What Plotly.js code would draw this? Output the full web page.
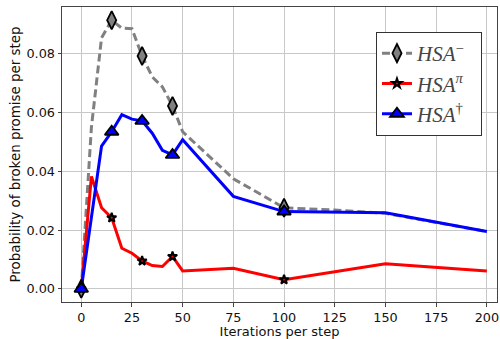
<!DOCTYPE html>
<html>
<head>
<meta charset="utf-8">
<script src="https://cdn.plot.ly/plotly-3.0.1.min.js"></script>
<style>html,body{margin:0;padding:0;background:#fff;}#chart{width:500px;height:339px;}</style>
</head>
<body>
<div id="chart"></div>
<script>
// Data
const xGray = [0, 5, 10, 15, 20, 25, 30, 35, 40, 45, 50, 75, 100, 125, 150, 200];
const yGray = [0, 0.055, 0.0855, 0.0915, 0.0888, 0.0886, 0.0793, 0.0722, 0.0688, 0.0623, 0.0535, 0.0375, 0.0276, 0.0268, 0.0257, 0.0195];
const xRed = [0, 5, 10, 15, 20, 25, 30, 35, 40, 45, 50, 75, 100, 150, 200];
const yRed = [0, 0.0383, 0.0276, 0.0242, 0.0138, 0.0121, 0.0095, 0.0079, 0.0076, 0.011, 0.0061, 0.007, 0.0031, 0.0085, 0.0061];
const xBlue = [0, 10, 15, 20, 25, 30, 35, 40, 45, 50, 75, 100, 150, 200];
const yBlue = [0, 0.0486, 0.0535, 0.0593, 0.0578, 0.0572, 0.053, 0.0472, 0.0456, 0.0508, 0.0315, 0.0263, 0.0259, 0.0195];
const markedX = [0, 15, 30, 45, 100];
const pad = '\u2002';
const names = ['<i>HSA</i><sup>−</sup>' + pad, '<i>HSA</i><sup><i>π</i></sup>' + pad, '<i>HSA</i><sup>†</sup>' + pad];
const xTicks = [0, 25, 50, 75, 100, 125, 150, 175, 200];
const yTicks = [0, 0.02, 0.04, 0.06, 0.08];

function pick(xs, ys) {
  const px = [], py = [];
  xs.forEach((v, i) => { if (markedX.includes(v)) { px.push(v); py.push(ys[i]); } });
  return [px, py];
}

const series = [
  {x: xGray, y: yGray, name: names[0], line: {color: '#808080', width: 3, dash: '8px,4px'},
   marker: {symbol: 'diamond-tall', size: 13, color: '#808080', line: {color: '#000', width: 1.8}}},
  {x: xRed, y: yRed, name: names[1], line: {color: '#ff0000', width: 3},
   marker: {symbol: 'star', size: 7, color: '#ff0000', line: {color: '#000', width: 2}}},
  {x: xBlue, y: yBlue, name: names[2], line: {color: '#0000ff', width: 3},
   marker: {symbol: 'triangle-up', size: 12, color: '#0000ff', line: {color: '#000', width: 1.8}}}
];

const traces = [];
series.forEach(s => {
  traces.push({x: s.x, y: s.y, mode: 'lines', line: s.line, showlegend: false, hoverinfo: 'skip'});
});
series.forEach(s => {
  const [px, py] = pick(s.x, s.y);
  traces.push({x: px, y: py, mode: 'markers', marker: s.marker, showlegend: false, hoverinfo: 'skip'});
});
series.forEach(s => {
  traces.push({x: [null], y: [null], mode: 'lines+markers', name: s.name, line: s.line, marker: s.marker, showlegend: true});
});

const axisCommon = {
  showline: true, mirror: true, linecolor: '#444', linewidth: 1,
  showgrid: true, gridcolor: '#c8c8c8', gridwidth: 1,
  ticks: 'outside', ticklen: 3.5, tickcolor: '#444', tickwidth: 1,
  zeroline: false,
  tickfont: {family: 'DejaVu Sans', size: 12.8, color: '#111'}
};

const layout = {
  width: 500, height: 339,
  margin: {l: 62, r: 3, t: 7, b: 37},
  paper_bgcolor: '#fff', plot_bgcolor: '#fff',
  font: {family: 'DejaVu Sans', color: '#111'},
  xaxis: Object.assign({}, axisCommon, {
    range: [-9.5, 205], tickmode: 'array', tickvals: xTicks, ticktext: xTicks.map(String),
    title: {text: 'Iterations per step', font: {family: 'DejaVu Sans', size: 13, color: '#111'}, standoff: 0}
  }),
  yaxis: Object.assign({}, axisCommon, {
    range: [-0.0045, 0.096], tickmode: 'array', tickvals: yTicks, ticktext: yTicks.map(v => v.toFixed(2)),
    title: {text: 'Probability of broken promise per step', font: {family: 'DejaVu Sans', size: 13.4, color: '#111'}, standoff: 2}
  }),
  legend: {
    x: 0.965, y: 0.916, xanchor: 'right', yanchor: 'top',
    bgcolor: '#fff', bordercolor: '#333', borderwidth: 1.2,
    font: {family: 'Liberation Serif', size: 21, color: '#444'},
    itemwidth: 30,
    tracegroupgap: 0
  },
  showlegend: true
};

Plotly.newPlot('chart', traces, layout, {displayModeBar: false, staticPlot: true});
</script>
</body>
</html>
